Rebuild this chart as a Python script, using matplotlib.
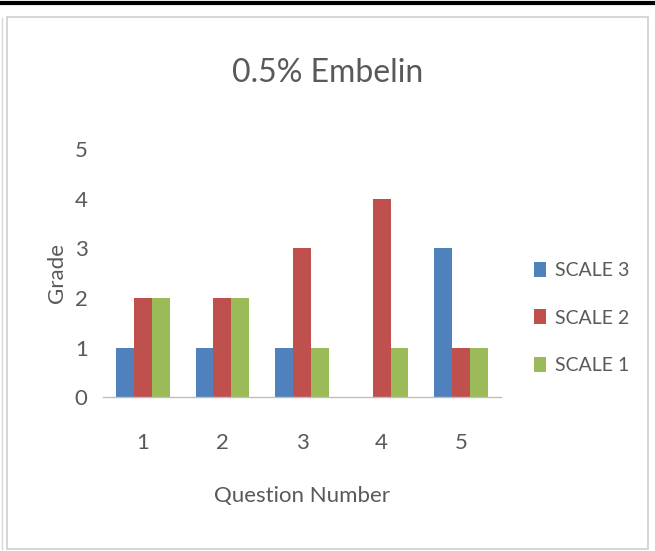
import matplotlib
matplotlib.use("Agg")
import matplotlib.pyplot as plt
from matplotlib.patches import Rectangle
from matplotlib.lines import Line2D
import numpy as np

categories = ["1", "2", "3", "4", "5"]
series_names = ["SCALE 3", "SCALE 2", "SCALE 1"]
scale3 = [1, 1, 1, 0, 3]
scale2 = [2, 2, 3, 4, 1]
scale1 = [2, 2, 1, 1, 1]
colors = ["#4F81BD", "#C0504D", "#9BBB59"]
yticks = [0, 1, 2, 3, 4, 5]

plt.rcParams['font.family'] = ['Lato', 'DejaVu Sans']
txt = "#595959"

fig = plt.figure(figsize=(6.55, 5.51), dpi=100)
W, H = 655, 551

# outer decorations
fig.add_artist(Line2D([0, 1], [1 - 3 / H, 1 - 3 / H], color="black", lw=3, transform=fig.transFigure))
fig.add_artist(Rectangle((7 / W, 1 - 549 / H), 641 / W, 532 / H, fill=False,
                         edgecolor="#D0D0D0", lw=1.2, transform=fig.transFigure))
fig.add_artist(Line2D([2 / W, 2 / W], [1 - 549 / H, 1 - 18 / H], color="#D8D8D8", lw=1, transform=fig.transFigure))

ax = fig.add_axes([103 / W, (H - 397) / H, 398 / W, 247.5 / H])
x = np.arange(len(categories))
bw = 0.225
for i, (vals, name) in enumerate(zip([scale3, scale2, scale1], series_names)):
    ax.bar(x + (i - 1) * bw, vals, width=bw, color=colors[i], label=name, zorder=2)

ax.set_xlim(-0.5, len(categories) - 0.5)
ax.set_ylim(0, 5)
ax.set_yticks(yticks)
ax.set_xticks(x)
ax.set_xticklabels(categories)
for s in ["top", "right", "left"]:
    ax.spines[s].set_visible(False)
ax.spines["bottom"].set_color("#BFBFBF")
ax.spines["bottom"].set_linewidth(1)
ax.tick_params(axis="both", length=0, labelsize=16, colors=txt)
ax.tick_params(axis="y", pad=11)
ax.tick_params(axis="x", pad=26)

ax.set_ylabel("Grade", fontsize=16, color=txt, labelpad=6)
ax.set_xlabel("Question Number", fontsize=16, color=txt, labelpad=24)
fig.text(328 / W, 1 - 73 / H, "0.5% Embelin", ha="center", va="center", fontsize=23, color=txt)

leg = fig.legend(*ax.get_legend_handles_labels(), loc="center left",
                 bbox_to_anchor=(534 / W, 1 - 318 / H), frameon=False,
                 fontsize=14, labelcolor=txt, handlelength=0.6, handleheight=0.8,
                 handletextpad=0.5, labelspacing=1.55, borderaxespad=0, borderpad=0)

fig.savefig("out.png", dpi=100)
